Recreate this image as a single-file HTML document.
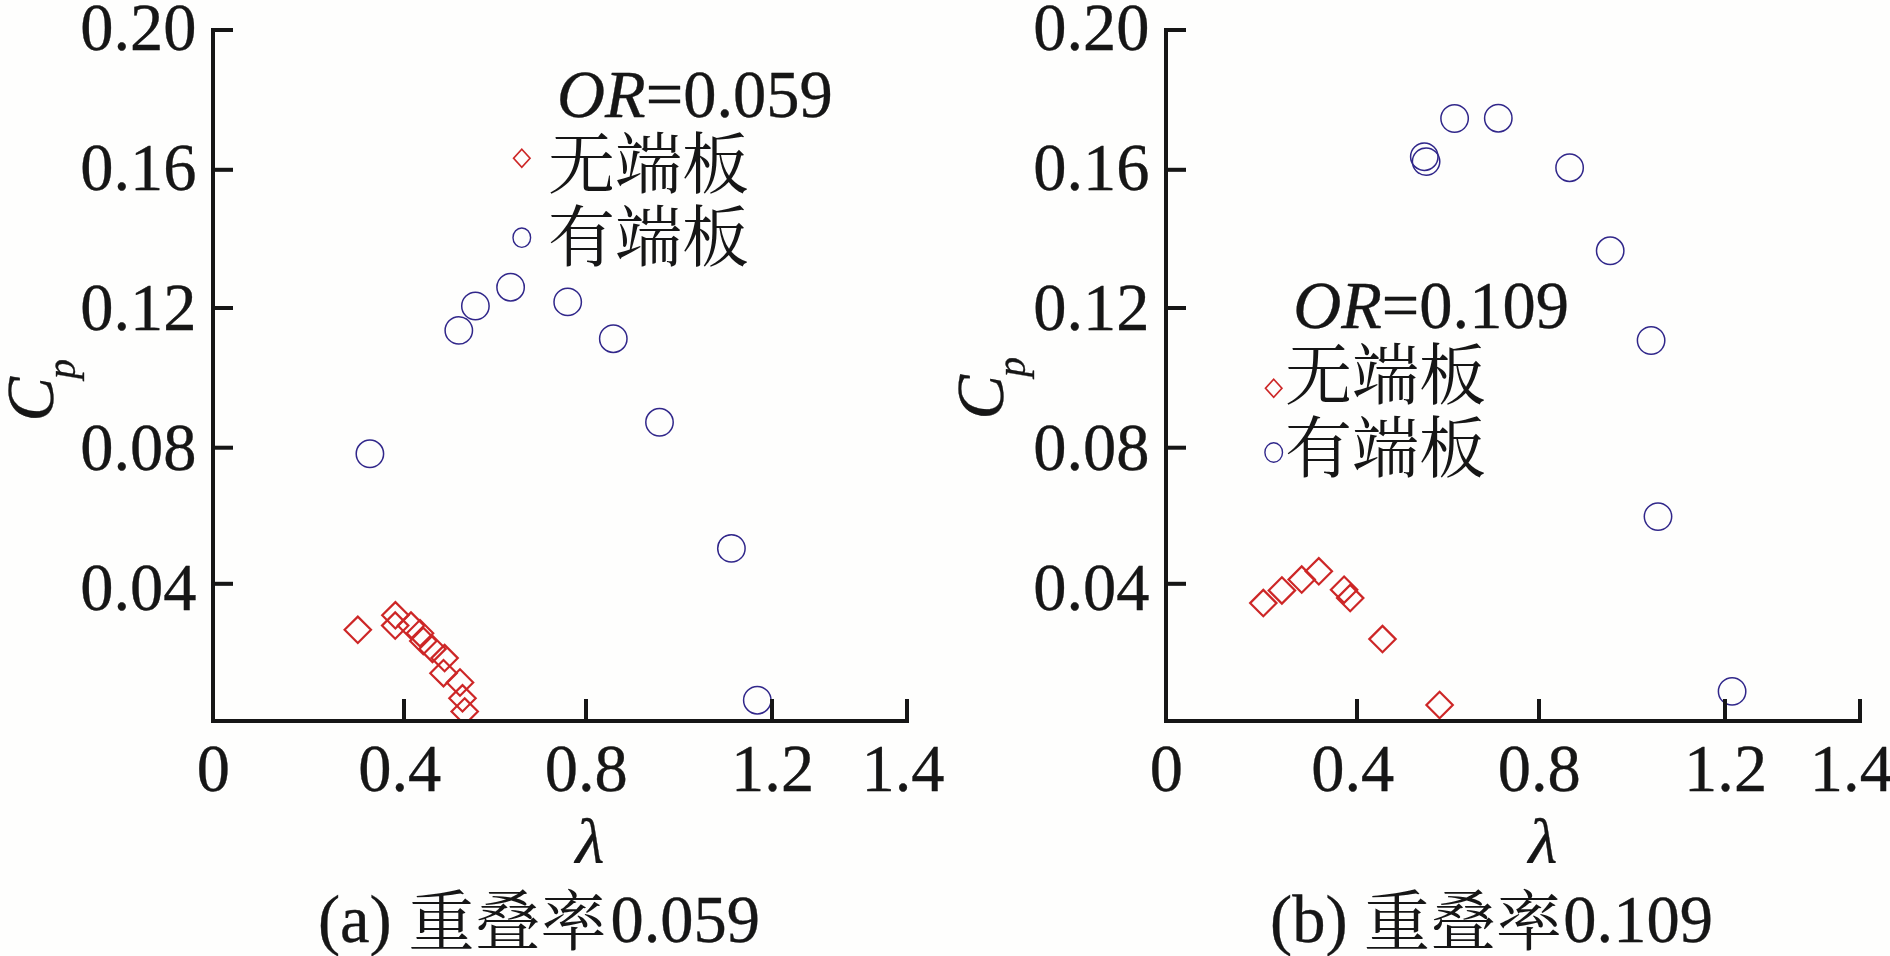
<!DOCTYPE html>
<html lang="zh">
<head>
<meta charset="utf-8">
<title>Cp-λ</title>
<style>
html,body{margin:0;padding:0;background:#fefefd;}
body{width:1890px;height:956px;overflow:hidden;}
svg{display:block;}
text{fill:#141414;stroke:#141414;stroke-width:0.35px;stroke-linejoin:round;}
text.cjk{stroke-width:0;}
.lat text,text.lat{font-family:"Liberation Serif",serif;font-size:66.5px;}
.it{font-style:italic;}
text.ital{font-family:"Liberation Serif",serif;font-style:italic;font-size:66.5px;}
text.cjk{font-family:"Liberation Serif","Noto Serif CJK SC",serif;font-size:67px;}
text.cap{font-family:"Liberation Serif","Noto Serif CJK SC",serif;font-size:66.5px;}
</style>
</head>
<body>
<svg width="1890" height="956" viewBox="0 0 1890 956">
<defs>
<clipPath id="clipA"><rect x="213" y="0" width="720" height="721"/></clipPath>
<clipPath id="clipB"><rect x="213" y="0" width="720" height="721"/></clipPath>
<filter id="soft" filterUnits="userSpaceOnUse" x="0" y="0" width="1890" height="956"><feGaussianBlur stdDeviation="0.45"/></filter>
</defs>
<rect width="1890" height="956" fill="#fefefd"/>
<g filter="url(#soft)">
<g transform="translate(0,0)">
<g clip-path="url(#clipA)" fill="none">
<g stroke="#cd2828" stroke-width="2.2">
<path d="M357.8 616.6L371.0 629.8L357.8 643.0L344.6 629.8Z"/>
<path d="M395.4 602.1L408.6 615.3L395.4 628.5L382.2 615.3Z"/>
<path d="M395.2 612.4L408.4 625.6L395.2 638.8L382.0 625.6Z"/>
<path d="M411.0 612.4L424.2 625.6L411.0 638.8L397.8 625.6Z"/>
<path d="M420.0 620.0L433.2 633.2L420.0 646.4L406.8 633.2Z"/>
<path d="M423.3 627.8L436.5 641.0L423.3 654.2L410.1 641.0Z"/>
<path d="M432.5 635.7L445.7 648.9L432.5 662.1L419.3 648.9Z"/>
<path d="M444.6 644.9L457.8 658.1L444.6 671.3L431.4 658.1Z"/>
<path d="M443.5 660.0L456.7 673.2L443.5 686.4L430.3 673.2Z"/>
<path d="M460.0 669.3L473.2 682.5L460.0 695.7L446.8 682.5Z"/>
<path d="M462.5 685.1L475.7 698.3L462.5 711.5L449.3 698.3Z"/>
<path d="M464.7 698.3L477.9 711.5L464.7 724.7L451.5 711.5Z"/>
</g>
<g stroke="#30278a" stroke-width="1.5">
<circle cx="369.9" cy="453.8" r="13.7"/>
<circle cx="458.8" cy="330.4" r="13.7"/>
<circle cx="475.4" cy="306.0" r="13.7"/>
<circle cx="510.6" cy="287.2" r="13.7"/>
<circle cx="567.7" cy="301.9" r="13.7"/>
<circle cx="613.3" cy="338.7" r="13.7"/>
<circle cx="659.5" cy="422.3" r="13.7"/>
<circle cx="731.4" cy="548.4" r="13.7"/>
<circle cx="757.3" cy="700.2" r="13.7"/>
</g>
</g>
<g fill="#141414">
<rect x="211" y="28" width="4" height="695"/>
<rect x="211" y="719" width="698" height="4"/>
<rect x="211" y="28.0" width="22" height="4"/>
<rect x="211" y="167.8" width="22" height="4"/>
<rect x="211" y="306.0" width="22" height="4"/>
<rect x="211" y="445.7" width="22" height="4"/>
<rect x="211" y="581.8" width="22" height="4"/>
<rect x="402" y="699" width="4" height="24"/>
<rect x="584" y="699" width="4" height="24"/>
<rect x="770" y="699" width="4" height="24"/>
<rect x="905" y="699" width="4" height="24"/>
</g>
<text class="lat" text-anchor="end" transform="translate(196.5,50.4) scale(1,1.025)">0.20</text>
<text class="lat" text-anchor="end" transform="translate(196.5,189.5) scale(1,1.025)">0.16</text>
<text class="lat" text-anchor="end" transform="translate(196.5,330.1) scale(1,1.025)">0.12</text>
<text class="lat" text-anchor="end" transform="translate(196.5,469.8) scale(1,1.025)">0.08</text>
<text class="lat" text-anchor="end" transform="translate(196.5,610.4) scale(1,1.025)">0.04</text>
<text class="lat" text-anchor="middle" transform="translate(213.3,790.6) scale(1,1.025)">0</text>
<text class="lat" text-anchor="middle" transform="translate(399.8,790.6) scale(1,1.025)">0.4</text>
<text class="lat" text-anchor="middle" transform="translate(586.3,790.6) scale(1,1.025)">0.8</text>
<text class="lat" text-anchor="middle" transform="translate(772.6,790.6) scale(1,1.025)">1.2</text>
<text class="lat" text-anchor="middle" transform="translate(903,790.6) scale(1,1.025)">1.4</text>
<text class="ital" text-anchor="middle" transform="translate(589.8,862.8) scale(1,0.964)">λ</text>
<text class="ital" transform="translate(53.3,421.5) rotate(-90) scale(1,1.025)">C</text>
<text class="ital" style="font-size:40px" transform="translate(75,379) rotate(-90) scale(1,1.025)">p</text>
<text class="lat" transform="translate(557,117.2) scale(1,1.025)"><tspan class="it">OR</tspan>=0.059</text>
<text class="cjk" x="548" y="188">无端板</text>
<text class="cjk" x="548" y="261">有端板</text>
<path fill="none" stroke="#cd2828" stroke-width="1.7" d="M521.8 149.3L530.0 158.3L521.8 167.3L513.6 158.3Z"/>
<ellipse fill="none" stroke="#30278a" stroke-width="1.4" cx="521.8" cy="237.7" rx="8.8" ry="9.7"/>
<text class="lat" transform="translate(317.9,942.3) scale(1,1.025)">(a)</text>
<text class="cjk" style="font-size:66px" x="408.4" y="945">重叠率</text>
<text class="lat" transform="translate(610.4,942.3) scale(1,1.025)">0.059</text>
</g>
<g transform="translate(953,0)">
<g clip-path="url(#clipB)" fill="none">
<g stroke="#cd2828" stroke-width="2.2">
<path d="M310.3 589.9L323.5 603.1L310.3 616.3L297.1 603.1Z"/>
<path d="M328.9 577.2L342.1 590.4L328.9 603.6L315.7 590.4Z"/>
<path d="M348.7 566.4L361.9 579.6L348.7 592.8L335.5 579.6Z"/>
<path d="M365.8 558.1L379.0 571.3L365.8 584.5L352.6 571.3Z"/>
<path d="M391.1 576.5L404.3 589.7L391.1 602.9L377.9 589.7Z"/>
<path d="M397.2 584.9L410.4 598.1L397.2 611.3L384.0 598.1Z"/>
<path d="M429.5 625.9L442.7 639.1L429.5 652.3L416.3 639.1Z"/>
<path d="M486.6 691.8L499.8 705.0L486.6 718.2L473.4 705.0Z"/>
</g>
<g stroke="#30278a" stroke-width="1.5">
<circle cx="471.3" cy="156.7" r="13.7"/>
<circle cx="473.1" cy="161.6" r="13.7"/>
<circle cx="501.6" cy="118.5" r="13.7"/>
<circle cx="545.3" cy="118.2" r="13.7"/>
<circle cx="616.6" cy="167.7" r="13.7"/>
<circle cx="657.2" cy="250.8" r="13.7"/>
<circle cx="698.1" cy="340.5" r="13.7"/>
<circle cx="705.0" cy="516.6" r="13.7"/>
<circle cx="779.1" cy="691.4" r="13.7"/>
</g>
</g>
<g fill="#141414">
<rect x="211" y="28" width="4" height="695"/>
<rect x="211" y="719" width="698" height="4"/>
<rect x="211" y="28.0" width="22" height="4"/>
<rect x="211" y="167.8" width="22" height="4"/>
<rect x="211" y="306.0" width="22" height="4"/>
<rect x="211" y="445.7" width="22" height="4"/>
<rect x="211" y="581.8" width="22" height="4"/>
<rect x="402" y="699" width="4" height="24"/>
<rect x="584" y="699" width="4" height="24"/>
<rect x="770" y="699" width="4" height="24"/>
<rect x="905" y="699" width="4" height="24"/>
</g>
<text class="lat" text-anchor="end" transform="translate(196.5,50.4) scale(1,1.025)">0.20</text>
<text class="lat" text-anchor="end" transform="translate(196.5,189.5) scale(1,1.025)">0.16</text>
<text class="lat" text-anchor="end" transform="translate(196.5,330.1) scale(1,1.025)">0.12</text>
<text class="lat" text-anchor="end" transform="translate(196.5,469.8) scale(1,1.025)">0.08</text>
<text class="lat" text-anchor="end" transform="translate(196.5,610.4) scale(1,1.025)">0.04</text>
<text class="lat" text-anchor="middle" transform="translate(213.3,790.6) scale(1,1.025)">0</text>
<text class="lat" text-anchor="middle" transform="translate(399.8,790.6) scale(1,1.025)">0.4</text>
<text class="lat" text-anchor="middle" transform="translate(586.3,790.6) scale(1,1.025)">0.8</text>
<text class="lat" text-anchor="middle" transform="translate(772.6,790.6) scale(1,1.025)">1.2</text>
<text class="lat" text-anchor="middle" transform="translate(898.4,790.6) scale(1,1.025)">1.4</text>
<text class="ital" text-anchor="middle" transform="translate(589.8,862.8) scale(1,0.964)">λ</text>
<text class="ital" transform="translate(50.3,419.5) rotate(-90) scale(1,1.025)">C</text>
<text class="ital" style="font-size:40px" transform="translate(72,377) rotate(-90) scale(1,1.025)">p</text>
<text class="lat" transform="translate(340.2,327.6) scale(1,1.025)"><tspan class="it">OR</tspan>=0.109</text>
<text class="cjk" x="332" y="398.5">无端板</text>
<text class="cjk" x="332" y="471.5">有端板</text>
<path fill="none" stroke="#cd2828" stroke-width="1.7" d="M320.70000000000005 379.2L328.9 388.2L320.70000000000005 397.2L312.5 388.2Z"/>
<ellipse fill="none" stroke="#30278a" stroke-width="1.4" cx="320.70000000000005" cy="452.5" rx="8.8" ry="9.7"/>
<text class="lat" transform="translate(317.0,942.3) scale(1,1.025)">(b)</text>
<text class="cjk" style="font-size:66px" x="411.0" y="945">重叠率</text>
<text class="lat" transform="translate(610.3,942.3) scale(1,1.025)">0.109</text>
</g>
</g>
</svg>
</body>
</html>
